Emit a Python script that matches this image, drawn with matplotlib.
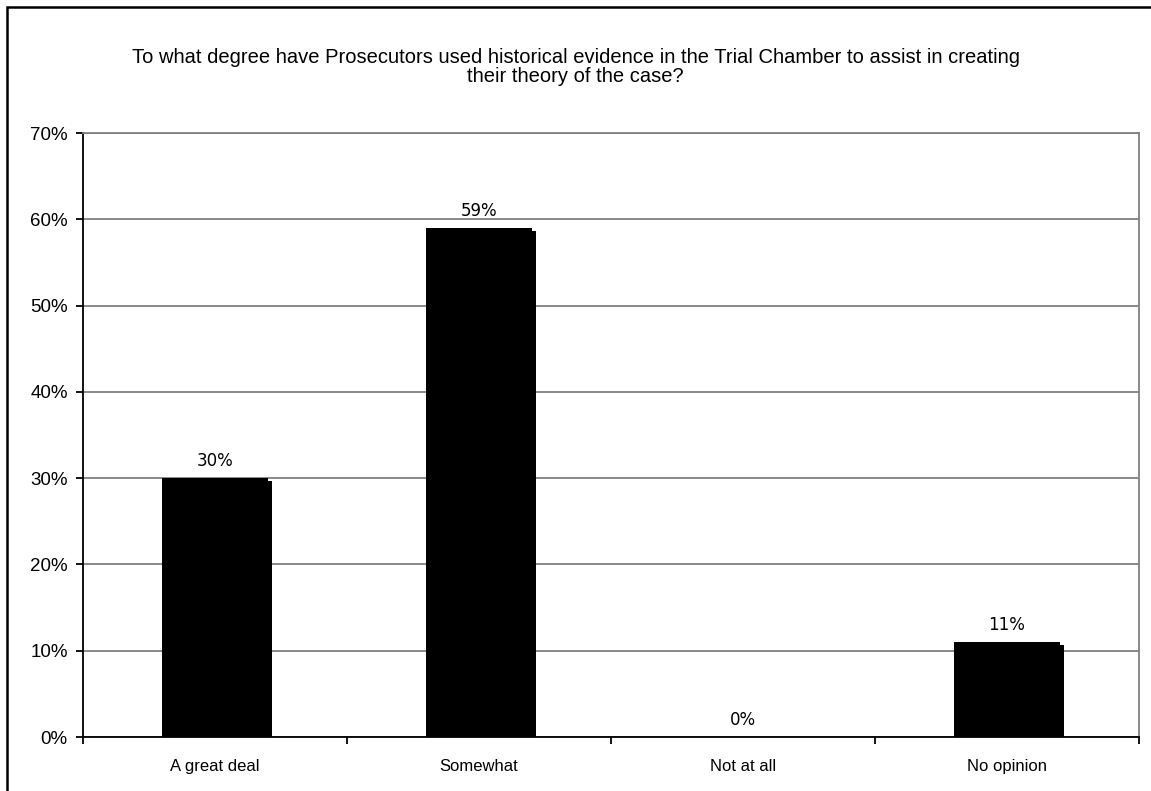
import matplotlib
matplotlib.use("Agg")
import matplotlib.pyplot as plt
from matplotlib.patches import Rectangle
from matplotlib.transforms import ScaledTranslation

categories = ["A great deal", "Somewhat", "Not at all", "No opinion"]
values = [30, 59, 0, 11]
value_labels = ["30%", "59%", "0%", "11%"]
yticks = [0, 10, 20, 30, 40, 50, 60, 70]
ytick_labels = ["0%", "10%", "20%", "30%", "40%", "50%", "60%", "70%"]
title = ("To what degree have Prosecutors used historical evidence in the Trial Chamber to assist in creating\n"
         "their theory of the case?")

W, H, DPI = 1151, 791, 100
fig = plt.figure(figsize=(W / DPI, H / DPI), dpi=DPI)
fig.patch.set_facecolor("white")

ax = fig.add_axes([83 / W, 1 - 737 / H, (1139 - 83) / W, (737 - 133) / H])

x = list(range(len(categories)))
bw = 0.40
# shadow bars
shadow_tr = ax.transData + ScaledTranslation(4.5 / DPI, -3 / DPI, fig.dpi_scale_trans)
shadow = ax.bar(x, values, width=bw, color="black", zorder=2)
for p in shadow:
    p.set_transform(shadow_tr)
bars = ax.bar(x, values, width=bw, color="black", zorder=3)

for xi, v, lab in zip(x, values, value_labels):
    ax.annotate(lab, (xi, v), xytext=(0, 6), textcoords="offset points",
                ha="center", va="bottom", fontsize=12, family="DejaVu Sans", color="black")

ax.set_xlim(-0.5, len(categories) - 0.5)
ax.set_ylim(0, 70)
ax.set_yticks(yticks)
ax.set_yticklabels(ytick_labels, fontsize=13.5, family="Liberation Sans")
ax.yaxis.grid(True, color="#808080", linewidth=1.3, zorder=0)
ax.set_axisbelow(True)

ax.set_xticks(x)
ax.set_xticklabels(categories, fontsize=12, family="Liberation Sans")
ax.tick_params(axis="x", which="major", length=0, pad=15.5)
ax.set_xticks([i - 0.5 for i in range(len(categories) + 1)], minor=True)
ax.tick_params(axis="x", which="minor", length=5, width=1.3, color="black", direction="out")
ax.tick_params(axis="y", length=5, width=1.3, color="black", direction="out", pad=6)

for s in ["top", "right"]:
    ax.spines[s].set_color("#808080")
    ax.spines[s].set_linewidth(1.3)
for s in ["left", "bottom"]:
    ax.spines[s].set_color("black")
    ax.spines[s].set_linewidth(1.3)

fig.text(0.5, 1 - 67 / H, title, ha="center", va="center", fontsize=14.5,
         family="Liberation Sans", linespacing=1.05)

# outer chart border (cut off at right and bottom)
fig.patches.append(Rectangle((7 / W, -0.1), 1.2, 1 - 7 / H + 0.1, transform=fig.transFigure,
                             fill=False, edgecolor="black", linewidth=1.8))

fig.savefig("out.png", dpi=DPI, facecolor="white")
